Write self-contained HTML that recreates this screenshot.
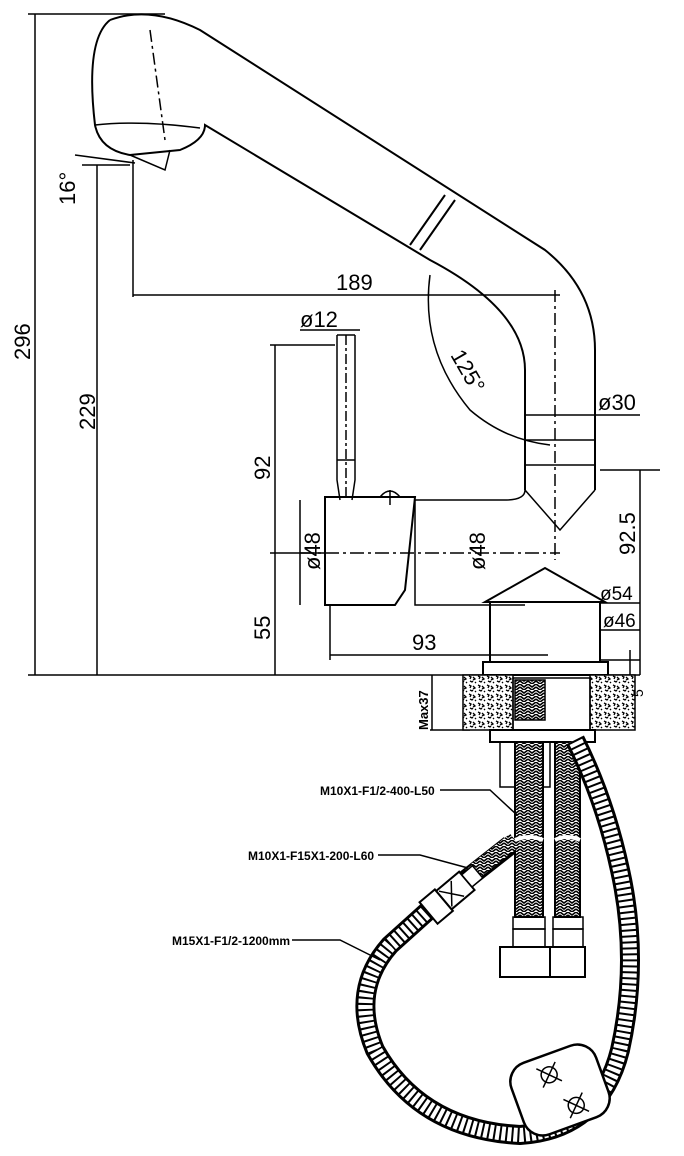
<!DOCTYPE html>
<html><head><meta charset="utf-8"><style>
html,body{margin:0;padding:0;background:#fff}
svg{display:block}
text{font-family:"Liberation Sans",sans-serif;fill:#000}
</style></head><body>
<svg width="684" height="1156" viewBox="0 0 684 1156" xmlns="http://www.w3.org/2000/svg">
<defs>
<pattern id="braid" width="8" height="6" patternUnits="userSpaceOnUse">
<rect width="8" height="6" fill="#fff"/>
<path d="M0 0 L4 3 L8 0 M0 3 L4 6 L8 3" stroke="#000" stroke-width="1.6" fill="none"/>
</pattern>
<pattern id="granite" width="9" height="9" patternUnits="userSpaceOnUse">
<rect width="9" height="9" fill="#fff"/>
<path d="M1 1 l2 1 l-1 2 M5 2 l2 2 l-2 1 M2 6 l2 1 l1 -1 M7 7 l1 1" stroke="#000" stroke-width="1.3" fill="none"/>
</pattern>
</defs>
<g stroke="#000" fill="none" stroke-width="1.5">
<line x1="28" y1="14" x2="165" y2="14"/>
<line x1="35" y1="14" x2="35" y2="675"/>
<line x1="97" y1="165" x2="97" y2="675"/>
<line x1="82" y1="165" x2="130" y2="165"/>
<line x1="28" y1="675" x2="640" y2="675"/>
<line x1="133" y1="160" x2="133" y2="297"/>
<line x1="133" y1="295" x2="560" y2="295"/>
<line x1="75" y1="155" x2="135" y2="163"/>
<line x1="275" y1="345" x2="275" y2="675"/>
<line x1="270" y1="345" x2="335" y2="345"/>
<line x1="270" y1="553" x2="325" y2="553"/>
<line x1="300" y1="330" x2="360" y2="330"/>
<line x1="300" y1="500" x2="300" y2="605"/>
<line x1="330" y1="605" x2="330" y2="660"/>
<line x1="330" y1="655" x2="548" y2="655"/>
<line x1="600" y1="470" x2="660" y2="470"/>
<line x1="640" y1="470" x2="640" y2="675"/>
<line x1="630" y1="650" x2="630" y2="700"/>
<line x1="600" y1="660" x2="640" y2="660"/>
<line x1="525" y1="415" x2="640" y2="415"/>
<line x1="600" y1="603" x2="640" y2="603"/>
<line x1="600" y1="630" x2="640" y2="630"/>
<line x1="430" y1="730" x2="470" y2="730"/>
<line x1="432" y1="675" x2="432" y2="730"/>
<path d="M110 20 Q150 5 200 30 L545 250 Q595 290 595 350 L595 490" stroke-width="2"/>
<path d="M110 20 Q85 40 95 125 Q100 150 130 155 L180 150 Q205 140 205 125 L430 260 Q525 310 525 370 L525 490" stroke-width="2"/>
<path d="M95 125 Q140 120 200 128" />
<path d="M130 155 L165 170 L170 150"/>
<line x1="410" y1="245" x2="445" y2="195" stroke-width="2"/>
<line x1="420" y1="250" x2="455" y2="200" stroke-width="2"/>
<line x1="150" y1="30" x2="165" y2="140" stroke-dasharray="12 4 3 4"/>
<line x1="555" y1="290" x2="555" y2="560" stroke-dasharray="12 4 3 4"/>
<path d="M430 275 Q420 350 470 410 Q505 440 550 445"/>
<path d="M525 440 L595 440 M525 465 L595 465"/>
<path d="M525 490 L560 530 L595 490"/>
<path d="M525 490 Q525 500 505 500 L415 500"/>
<path d="M337 335 L337 480 L340 500 M355 335 L355 480 L352 500"/>
<line x1="337" y1="335" x2="355" y2="335"/>
<line x1="337" y1="460" x2="355" y2="460"/>
<line x1="346" y1="335" x2="346" y2="500" stroke-dasharray="10 3 3 3"/>
<path d="M325 497 L415 497 L405 590 L395 605 L325 605 Z" stroke-width="2"/>
<path d="M415 500 L415 605 L525 605"/>
<path d="M380 497 Q390 485 400 497 M390 490 L390 505"/>
<line x1="300" y1="553" x2="560" y2="553" stroke-dasharray="14 4 3 4"/>
<path d="M485 602 L545 568 L605 602 Z" stroke-width="2"/>
<rect x="490" y="602" width="110" height="60" stroke-width="2"/>
<rect x="483" y="662" width="125" height="13" stroke-width="2"/>
<rect x="463" y="675" width="50" height="55" fill="url(#granite)"/>
<rect x="590" y="675" width="45" height="55" fill="url(#granite)"/>
<rect x="513" y="678" width="77" height="52"/>
<rect x="490" y="730" width="105" height="12" stroke-width="2"/>
<rect x="500" y="742" width="50" height="45"/>
<rect x="515" y="680" width="30" height="40" fill="url(#braid)"/>
<rect x="515" y="742" width="28" height="175" fill="url(#braid)" stroke-width="2"/>
<rect x="555" y="742" width="25" height="175" fill="url(#braid)" stroke-width="2"/>
<path d="M515 840 Q529 834 543 840 M555 840 Q567 834 580 840" stroke="#fff" stroke-width="4"/>
<rect x="513" y="917" width="32" height="12"/>
<rect x="553" y="917" width="30" height="12"/>
<rect x="513" y="929" width="32" height="18"/>
<rect x="553" y="929" width="30" height="18"/>
<rect x="500" y="947" width="50" height="30" stroke-width="2"/>
<rect x="550" y="947" width="35" height="30" stroke-width="2"/>
<path d="M575 740 Q605 800 620 870 Q640 960 620 1050 Q600 1130 520 1135 Q420 1130 375 1050 Q350 990 390 945 L440 900 L510 845" stroke="#000" stroke-width="20"/>
<path d="M575 740 Q605 800 620 870 Q640 960 620 1050 Q600 1130 520 1135 Q420 1130 375 1050 Q350 990 390 945 L440 900" stroke="#fff" stroke-width="14"/>
<path d="M575 740 Q605 800 620 870 Q640 960 620 1050 Q600 1130 520 1135 Q420 1130 375 1050 Q350 990 390 945 L440 900" stroke="#000" stroke-width="16" stroke-dasharray="2 4"/>
<path d="M470 875 L515 840" stroke="url(#braid)" stroke-width="16"/>
<g transform="translate(450 895) rotate(-40)">
<rect x="-28" y="-14" width="20" height="28" fill="#fff" stroke-width="2"/>
<rect x="-8" y="-12" width="30" height="24" fill="#fff" stroke-width="2"/>
<rect x="22" y="-8" width="14" height="16" fill="#fff"/>
<path d="M-6 -10 L10 10 M-6 10 L10 -10"/>
</g>
<g transform="translate(560 1090) rotate(-20)">
<rect x="-45" y="-38" width="90" height="76" rx="20" fill="#fff" stroke-width="2.5"/>
<circle cx="-5" cy="-18" r="8"/>
<circle cx="10" cy="20" r="8"/>
<path d="M-15 -28 L5 -8 M-15 -8 L5 -28 M0 10 L20 30 M0 30 L20 10"/>
</g>
<path d="M440 790 L490 790 L517 815"/>
<path d="M378 855 L420 855 L468 868"/>
<path d="M292 940 L340 940 L380 960"/>
</g>
<g font-size="22">
<text x="336" y="290">189</text>
<text x="300" y="327">ø12</text>
<text x="598" y="410">ø30</text>
<text x="412" y="650">93</text>
<text x="600" y="600" font-size="19">ø54</text>
<text x="603" y="627" font-size="19">ø46</text>
<text transform="translate(30 360) rotate(-90)">296</text>
<text transform="translate(95 430) rotate(-90)">229</text>
<text transform="translate(270 480) rotate(-90)">92</text>
<text transform="translate(270 640) rotate(-90)">55</text>
<text transform="translate(635 555) rotate(-90)">92.5</text>
<text transform="translate(320 570) rotate(-90)">ø48</text>
<text transform="translate(485 570) rotate(-90)">ø48</text>
<text transform="translate(75 205) rotate(-90)">16°</text>
<text transform="translate(450 355) rotate(60)">125°</text>
<text transform="translate(643 697) rotate(-90)" font-size="14">5</text>
<text transform="translate(428 730) rotate(-90)" font-size="13" font-weight="bold">Max37</text>
<text x="320" y="795" font-size="12" font-weight="bold">M10X1-F1/2-400-L50</text>
<text x="248" y="860" font-size="12" font-weight="bold">M10X1-F15X1-200-L60</text>
<text x="172" y="945" font-size="12" font-weight="bold">M15X1-F1/2-1200mm</text>
</g>
</svg>
</body></html>
